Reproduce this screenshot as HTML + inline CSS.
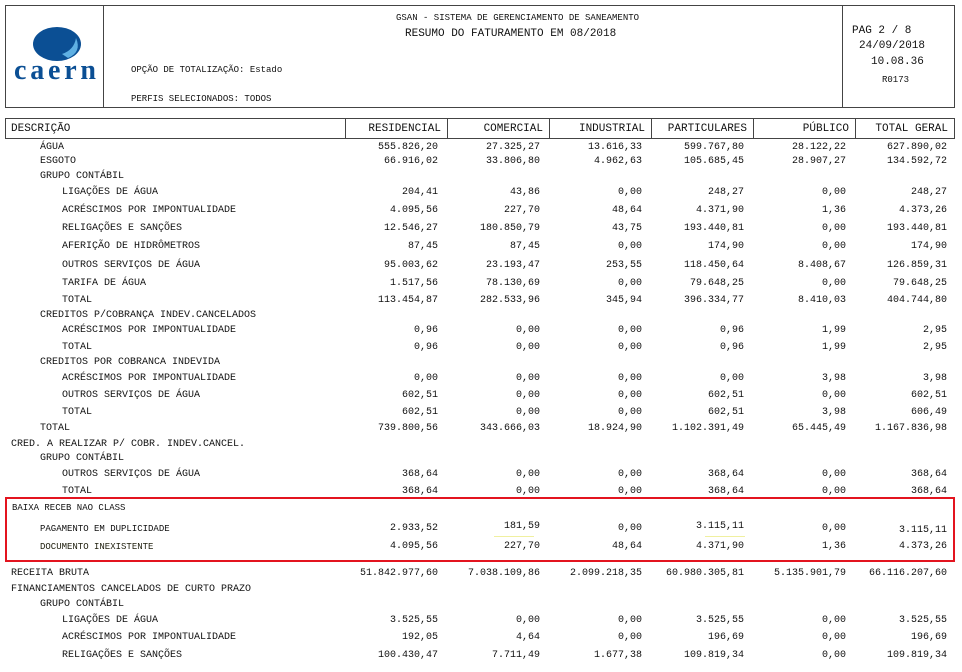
<!DOCTYPE html>
<html><head><meta charset="utf-8"><style>
body{margin:0;width:962px;height:672px;background:#fff;position:relative;overflow:hidden;font-family:"Liberation Mono",monospace;color:#111}
.b{position:absolute;border:1.5px solid #444;box-sizing:border-box}
.t{position:absolute;white-space:nowrap;font-size:10px;line-height:12px}
.r{position:absolute;left:0;width:962px;height:14px;line-height:14px;font-size:10px;white-space:nowrap;margin-top:2px}
.r span{position:absolute}
.c1{right:524px}.c2{right:422px}.c3{right:320px}.c4{right:218px}.c5{right:116px}.c6{right:15px}
.h{position:absolute;top:118px;height:21px;line-height:20px;font-size:11px;border:1px solid #444;box-sizing:border-box;text-align:right;padding-right:6px}
</style></head><body>
<div class="b" style="left:5px;top:5px;width:950px;height:103px"></div>
<div class="b" style="left:5px;top:5px;width:99px;height:103px"></div>
<div class="b" style="left:842px;top:5px;width:113px;height:103px"></div>
<svg style="position:absolute;left:12px;top:24px" width="88" height="62">
<ellipse cx="45" cy="20" rx="24" ry="17" fill="#0b4f94"/>
<path d="M56 34 Q70 28 64 14 Q62 26 50 30 Z" fill="#5fb0e3"/>
<text x="2" y="55" font-family="Liberation Serif,serif" font-weight="bold" font-size="28" fill="#0b4f94" textLength="82">caern</text>
</svg>
<div class="t" style="left:396px;top:12px;font-size:9px">GSAN - SISTEMA DE GERENCIAMENTO DE SANEAMENTO</div>
<div class="t" style="left:405px;top:28px;font-size:11px">RESUMO DO FATURAMENTO EM  08/2018</div>
<div class="t" style="left:131px;top:64px;font-size:9px">OPÇÃO DE TOTALIZAÇÃO:  Estado</div>
<div class="t" style="left:131px;top:93px;font-size:9px">PERFIS SELECIONADOS:  TODOS</div>
<div class="t" style="left:852px;top:25px;font-size:11px">PAG 2 / 8</div>
<div class="t" style="left:859px;top:40px;font-size:11px">24/09/2018</div>
<div class="t" style="left:871px;top:56px;font-size:11px">10.08.36</div>
<div class="t" style="left:882px;top:74px;font-size:9px">R0173</div>

<div class="h" style="left:5px;width:341px;text-align:left;padding-left:5px">DESCRIÇÃO</div>
<div class="h" style="left:345px;width:103px">RESIDENCIAL</div>
<div class="h" style="left:447px;width:103px">COMERCIAL</div>
<div class="h" style="left:549px;width:103px">INDUSTRIAL</div>
<div class="h" style="left:651px;width:103px">PARTICULARES</div>
<div class="h" style="left:753px;width:103px">PÚBLICO</div>
<div class="h" style="left:855px;width:100px">TOTAL GERAL</div>

<div class="r" style="top:139px"><span style="left:40px">ÁGUA</span><span class="c1">555.826,20</span><span class="c2">27.325,27</span><span class="c3">13.616,33</span><span class="c4">599.767,80</span><span class="c5">28.122,22</span><span class="c6">627.890,02</span></div>
<div class="r" style="top:153px"><span style="left:40px">ESGOTO</span><span class="c1">66.916,02</span><span class="c2">33.806,80</span><span class="c3">4.962,63</span><span class="c4">105.685,45</span><span class="c5">28.907,27</span><span class="c6">134.592,72</span></div>
<div class="r" style="top:168px"><span style="left:40px">GRUPO CONTÁBIL</span></div>
<div class="r" style="top:184px"><span style="left:62px">LIGAÇÕES DE ÁGUA</span><span class="c1">204,41</span><span class="c2">43,86</span><span class="c3">0,00</span><span class="c4">248,27</span><span class="c5">0,00</span><span class="c6">248,27</span></div>
<div class="r" style="top:202px"><span style="left:62px">ACRÉSCIMOS POR IMPONTUALIDADE</span><span class="c1">4.095,56</span><span class="c2">227,70</span><span class="c3">48,64</span><span class="c4">4.371,90</span><span class="c5">1,36</span><span class="c6">4.373,26</span></div>
<div class="r" style="top:220px"><span style="left:62px">RELIGAÇÕES E SANÇÕES</span><span class="c1">12.546,27</span><span class="c2">180.850,79</span><span class="c3">43,75</span><span class="c4">193.440,81</span><span class="c5">0,00</span><span class="c6">193.440,81</span></div>
<div class="r" style="top:238px"><span style="left:62px">AFERIÇÃO DE HIDRÔMETROS</span><span class="c1">87,45</span><span class="c2">87,45</span><span class="c3">0,00</span><span class="c4">174,90</span><span class="c5">0,00</span><span class="c6">174,90</span></div>
<div class="r" style="top:257px"><span style="left:62px">OUTROS SERVIÇOS DE ÁGUA</span><span class="c1">95.003,62</span><span class="c2">23.193,47</span><span class="c3">253,55</span><span class="c4">118.450,64</span><span class="c5">8.408,67</span><span class="c6">126.859,31</span></div>
<div class="r" style="top:275px"><span style="left:62px">TARIFA DE ÁGUA</span><span class="c1">1.517,56</span><span class="c2">78.130,69</span><span class="c3">0,00</span><span class="c4">79.648,25</span><span class="c5">0,00</span><span class="c6">79.648,25</span></div>
<div class="r" style="top:292px"><span style="left:62px">TOTAL</span><span class="c1">113.454,87</span><span class="c2">282.533,96</span><span class="c3">345,94</span><span class="c4">396.334,77</span><span class="c5">8.410,03</span><span class="c6">404.744,80</span></div>
<div class="r" style="top:307px"><span style="left:40px">CREDITOS P/COBRANÇA INDEV.CANCELADOS</span></div>
<div class="r" style="top:322px"><span style="left:62px">ACRÉSCIMOS POR IMPONTUALIDADE</span><span class="c1">0,96</span><span class="c2">0,00</span><span class="c3">0,00</span><span class="c4">0,96</span><span class="c5">1,99</span><span class="c6">2,95</span></div>
<div class="r" style="top:339px"><span style="left:62px">TOTAL</span><span class="c1">0,96</span><span class="c2">0,00</span><span class="c3">0,00</span><span class="c4">0,96</span><span class="c5">1,99</span><span class="c6">2,95</span></div>
<div class="r" style="top:354px"><span style="left:40px">CREDITOS POR COBRANCA INDEVIDA</span></div>
<div class="r" style="top:370px"><span style="left:62px">ACRÉSCIMOS POR IMPONTUALIDADE</span><span class="c1">0,00</span><span class="c2">0,00</span><span class="c3">0,00</span><span class="c4">0,00</span><span class="c5">3,98</span><span class="c6">3,98</span></div>
<div class="r" style="top:387px"><span style="left:62px">OUTROS SERVIÇOS DE ÁGUA</span><span class="c1">602,51</span><span class="c2">0,00</span><span class="c3">0,00</span><span class="c4">602,51</span><span class="c5">0,00</span><span class="c6">602,51</span></div>
<div class="r" style="top:404px"><span style="left:62px">TOTAL</span><span class="c1">602,51</span><span class="c2">0,00</span><span class="c3">0,00</span><span class="c4">602,51</span><span class="c5">3,98</span><span class="c6">606,49</span></div>
<div class="r" style="top:420px"><span style="left:40px">TOTAL</span><span class="c1">739.800,56</span><span class="c2">343.666,03</span><span class="c3">18.924,90</span><span class="c4">1.102.391,49</span><span class="c5">65.445,49</span><span class="c6">1.167.836,98</span></div>
<div class="r" style="top:436px"><span style="left:11px">CRED. A REALIZAR P/ COBR. INDEV.CANCEL.</span></div>
<div class="r" style="top:450px"><span style="left:40px">GRUPO CONTÁBIL</span></div>
<div class="r" style="top:466px"><span style="left:62px">OUTROS SERVIÇOS DE ÁGUA</span><span class="c1">368,64</span><span class="c2">0,00</span><span class="c3">0,00</span><span class="c4">368,64</span><span class="c5">0,00</span><span class="c6">368,64</span></div>
<div class="r" style="top:483px"><span style="left:62px">TOTAL</span><span class="c1">368,64</span><span class="c2">0,00</span><span class="c3">0,00</span><span class="c4">368,64</span><span class="c5">0,00</span><span class="c6">368,64</span></div>

<div style="position:absolute;left:5px;top:497px;width:950px;height:65px;border:2px solid #e3141f;box-sizing:border-box"></div>
<div class="r" style="top:499px;font-size:9px"><span style="left:12px">BAIXA RECEB NAO CLASS</span></div>
<div class="r" style="top:520px"><span style="left:40px;font-size:9px">PAGAMENTO EM DUPLICIDADE</span><span class="c1">2.933,52</span><span class="c2" style="top:-2px">181,59</span><span class="c3">0,00</span><span class="c4" style="top:-2px">3.115,11</span><span class="c5">0,00</span><span class="c6" style="top:2px">3.115,11</span></div>
<div style="position:absolute;left:494px;top:536px;width:40px;height:1px;background:#f0f0a0"></div>
<div style="position:absolute;left:705px;top:536px;width:40px;height:1px;background:#f0f0a0"></div>
<div class="r" style="top:538px"><span style="left:40px;font-size:9px;color:#221">DOCUMENTO INEXISTENTE</span><span class="c1">4.095,56</span><span class="c2">227,70</span><span class="c3">48,64</span><span class="c4">4.371,90</span><span class="c5">1,36</span><span class="c6">4.373,26</span></div>

<div class="r" style="top:565px"><span style="left:11px">RECEITA BRUTA</span><span class="c1">51.842.977,60</span><span class="c2">7.038.109,86</span><span class="c3">2.099.218,35</span><span class="c4">60.980.305,81</span><span class="c5">5.135.901,79</span><span class="c6">66.116.207,60</span></div>
<div class="r" style="top:581px"><span style="left:11px">FINANCIAMENTOS CANCELADOS DE CURTO PRAZO</span></div>
<div class="r" style="top:596px"><span style="left:40px">GRUPO CONTÁBIL</span></div>
<div class="r" style="top:612px"><span style="left:62px">LIGAÇÕES DE ÁGUA</span><span class="c1">3.525,55</span><span class="c2">0,00</span><span class="c3">0,00</span><span class="c4">3.525,55</span><span class="c5">0,00</span><span class="c6">3.525,55</span></div>
<div class="r" style="top:629px"><span style="left:62px">ACRÉSCIMOS POR IMPONTUALIDADE</span><span class="c1">192,05</span><span class="c2">4,64</span><span class="c3">0,00</span><span class="c4">196,69</span><span class="c5">0,00</span><span class="c6">196,69</span></div>
<div class="r" style="top:647px"><span style="left:62px">RELIGAÇÕES E SANÇÕES</span><span class="c1">100.430,47</span><span class="c2">7.711,49</span><span class="c3">1.677,38</span><span class="c4">109.819,34</span><span class="c5">0,00</span><span class="c6">109.819,34</span></div>
</body></html>
